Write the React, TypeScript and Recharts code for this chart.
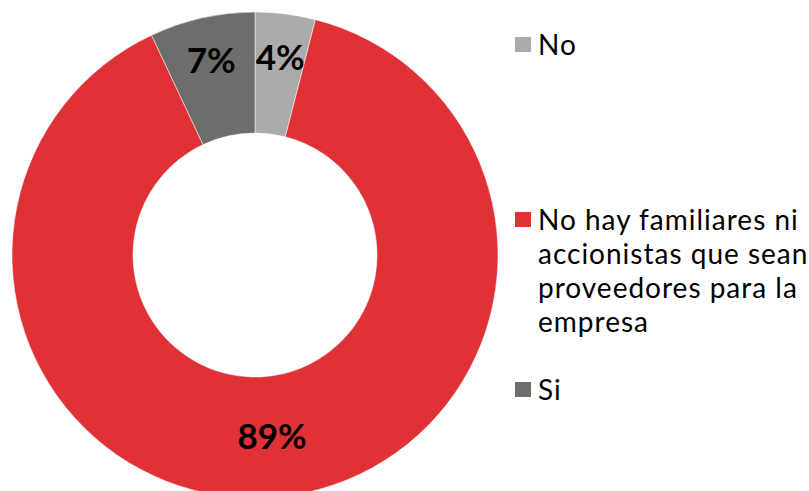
import React from "react";
import { PieChart, Pie, Cell, Legend } from "recharts";

const categories = [
  "No",
  "No hay familiares ni accionistas que sean proveedores para la empresa",
  "Si",
];
const values = [4, 89, 7];
const colors = ["#ABABAB", "#E03236", "#6D6D6B"];

const data = categories.map((name, i) => ({ name, value: values[i] }));

const RAD = Math.PI / 180;

const renderLabel = (props: any) => {
  const { cx, cy, midAngle, innerRadius, outerRadius, percent } = props;
  const f = percent < 0.5 ? 0.65 : 0.49;
  const r = innerRadius + (outerRadius - innerRadius) * f;
  const x = cx + r * Math.cos(-midAngle * RAD);
  const y = cy + r * Math.sin(-midAngle * RAD);
  return (
    <text
      x={x}
      y={y}
      textAnchor="middle"
      dominantBaseline="central"
      fill="#000"
      fontFamily="Lato, sans-serif"
      fontWeight={700}
      fontSize={35}
    >
      {`${Math.round(percent * 100)}%`}
    </text>
  );
};

const gaps = [0, 141, 34];

const renderLegend = (props: any) => {
  const { payload } = props;
  return (
    <div
      style={{
        fontFamily: "Lato, sans-serif",
        fontSize: 28,
        lineHeight: "34px",
        letterSpacing: "1px",
        color: "#000",
      }}
    >
      {payload.map((entry: any, i: number) => (
        <div key={i} style={{ display: "flex", alignItems: "flex-start", marginTop: gaps[i] }}>
          <div
            style={{
              width: 16,
              height: 15,
              marginTop: 10,
              marginRight: 7,
              background: entry.color,
              flex: "0 0 auto",
            }}
          />
          <div style={{ width: 275 }}>{entry.value}</div>
        </div>
      ))}
    </div>
  );
};

export default function App() {
  return (
    <div style={{ position: "absolute", left: 0, top: 0, width: 809, height: 491, background: "#fff" }}>
      <PieChart width={809} height={491} margin={{ top: 0, right: 0, bottom: 0, left: 0 }}>
        <Pie
          data={data}
          dataKey="value"
          nameKey="name"
          cx={255}
          cy={255}
          innerRadius={122}
          outerRadius={243}
          startAngle={90}
          endAngle={-270}
          stroke="#ffffff"
          strokeWidth={0.5}
          label={renderLabel}
          labelLine={false}
          isAnimationActive={false}
        >
          {data.map((d, i) => (
            <Cell key={d.name} fill={colors[i]} />
          ))}
        </Pie>
        <Legend
          content={renderLegend}
          wrapperStyle={{ position: "absolute", left: 515, top: 27, width: 300 }}
        />
      </PieChart>
    </div>
  );
}
